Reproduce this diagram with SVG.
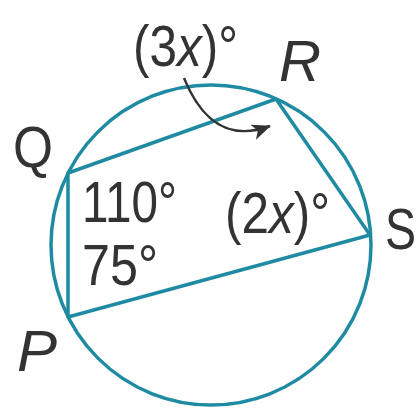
<svg xmlns="http://www.w3.org/2000/svg" width="420" height="408" viewBox="0 0 420 408">
<style>
.ln{fill:none;stroke:#1f8ba3;stroke-width:3.5;stroke-linejoin:round}
.t{font-family:"Liberation Sans",Arial,sans-serif;font-size:58px;fill:#333}
.i{font-style:italic}
.ar{fill:none;stroke:#333;stroke-width:2.5}
</style>
<defs>
<marker id="ah" markerWidth="20" markerHeight="16" refX="18" refY="8" orient="auto" markerUnits="userSpaceOnUse">
<path d="M0,0 L19,8 L0,16 L5,8 z" fill="#333"/>
</marker>
</defs>
<rect width="420" height="408" fill="#fff"/>
<g id="circle"><circle class="ln" cx="211" cy="245" r="160"/></g>
<g id="connectors">
<polygon class="ln" points="68,173 276,99 370,235 68,317"/>
<path class="ar" d="M184,78 C198,112 222,144 270,126" marker-end="url(#ah)"/>
</g>
<g id="labels">
<text class="t" x="133" y="66" textLength="105" lengthAdjust="spacingAndGlyphs">(3<tspan class="i">x</tspan>)°</text>
<text class="t i" x="279" y="81" textLength="42" lengthAdjust="spacingAndGlyphs">R</text>
<text class="t" x="13" y="167" textLength="40" lengthAdjust="spacingAndGlyphs">Q</text>
<text class="t" x="82" y="222" textLength="95" lengthAdjust="spacingAndGlyphs">110°</text>
<text class="t" x="82" y="285" textLength="76" lengthAdjust="spacingAndGlyphs">75°</text>
<text class="t" x="225" y="233" textLength="105" lengthAdjust="spacingAndGlyphs">(2<tspan class="i">x</tspan>)°</text>
<text class="t" x="385" y="249" textLength="31" lengthAdjust="spacingAndGlyphs">S</text>
<text class="t i" x="17" y="371" textLength="40" lengthAdjust="spacingAndGlyphs">P</text>
</g>
</svg>
